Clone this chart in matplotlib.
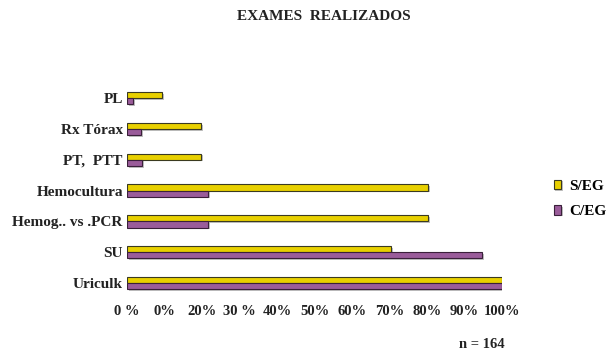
import matplotlib
matplotlib.use("Agg")
import matplotlib.pyplot as plt
import matplotlib.patheffects as pe
import numpy as np

categories = ["Uriculk", "SU", "Hemog.. vs .PCR", "Hemocultura", "PT,  PTT", "Rx Tórax", "PL"]
s_eg = [100.0, 70.5, 80.3, 80.3, 19.7, 19.7, 9.4]
c_eg = [100.0, 94.8, 21.6, 21.6, 4.0, 3.7, 1.6]
xtick_labels = ["0 %", "0%", "20%", "30 %", "40%", "50%", "60%", "70%", "80%", "90%", "100%"]
series_names = ["S/EG", "C/EG"]

font = "Liberation Serif"
yellow = "#E8D000"
purple = "#9A5C9A"

fig = plt.figure(figsize=(6.11, 3.56), dpi=100)
ax = fig.add_axes([127 / 611, 1 - 298.4 / 356, (502 - 127) / 611, 215.6 / 356])

y = np.arange(len(categories))
h = 0.2
shadow = [pe.SimplePatchShadow(offset=(1.2, -1.2), shadow_rgbFace="#999999", alpha=0.6), pe.Normal()]
b1 = ax.barh(y + h / 2, s_eg, height=h, color=yellow, edgecolor="#3a3a20", linewidth=0.8,
             label=series_names[0], path_effects=shadow)
b2 = ax.barh(y - h / 2, c_eg, height=h, color=purple, edgecolor="#3a203a", linewidth=0.8,
             label=series_names[1], path_effects=shadow)

ax.set_xlim(0, 100)
ax.set_ylim(-0.5, len(categories) - 0.5)
ax.set_xticks(np.linspace(0, 100, len(xtick_labels)))
ax.set_xticklabels(xtick_labels, fontfamily=font, fontweight="bold", fontsize=10.5, color="#222222")
ax.set_yticks(y)
ax.set_yticklabels(categories, fontfamily=font, fontweight="bold", fontsize=11, color="#222222")
ax.tick_params(length=0, pad=3)
ax.tick_params(axis="x", pad=5)
for s in ax.spines.values():
    s.set_visible(False)

fig.text(324 / 611, 1 - 17 / 356, "EXAMES  REALIZADOS", ha="center", va="center",
         fontfamily=font, fontweight="bold", fontsize=11, color="#222222")
fig.text(482 / 611, 1 - 344 / 356, "n = 164", ha="center", va="center",
         fontfamily=font, fontweight="bold", fontsize=10.5, color="#222222")

leg = fig.legend(handles=[b1, b2], labels=series_names, loc="center left",
                 bbox_to_anchor=(540 / 611, 1 - 199 / 356), frameon=False,
                 handlelength=0.5, handleheight=0.6, handletextpad=0.5, labelspacing=0.8,
                 prop={"family": font, "weight": "bold", "size": 11})

fig.savefig("out.png", dpi=100)
